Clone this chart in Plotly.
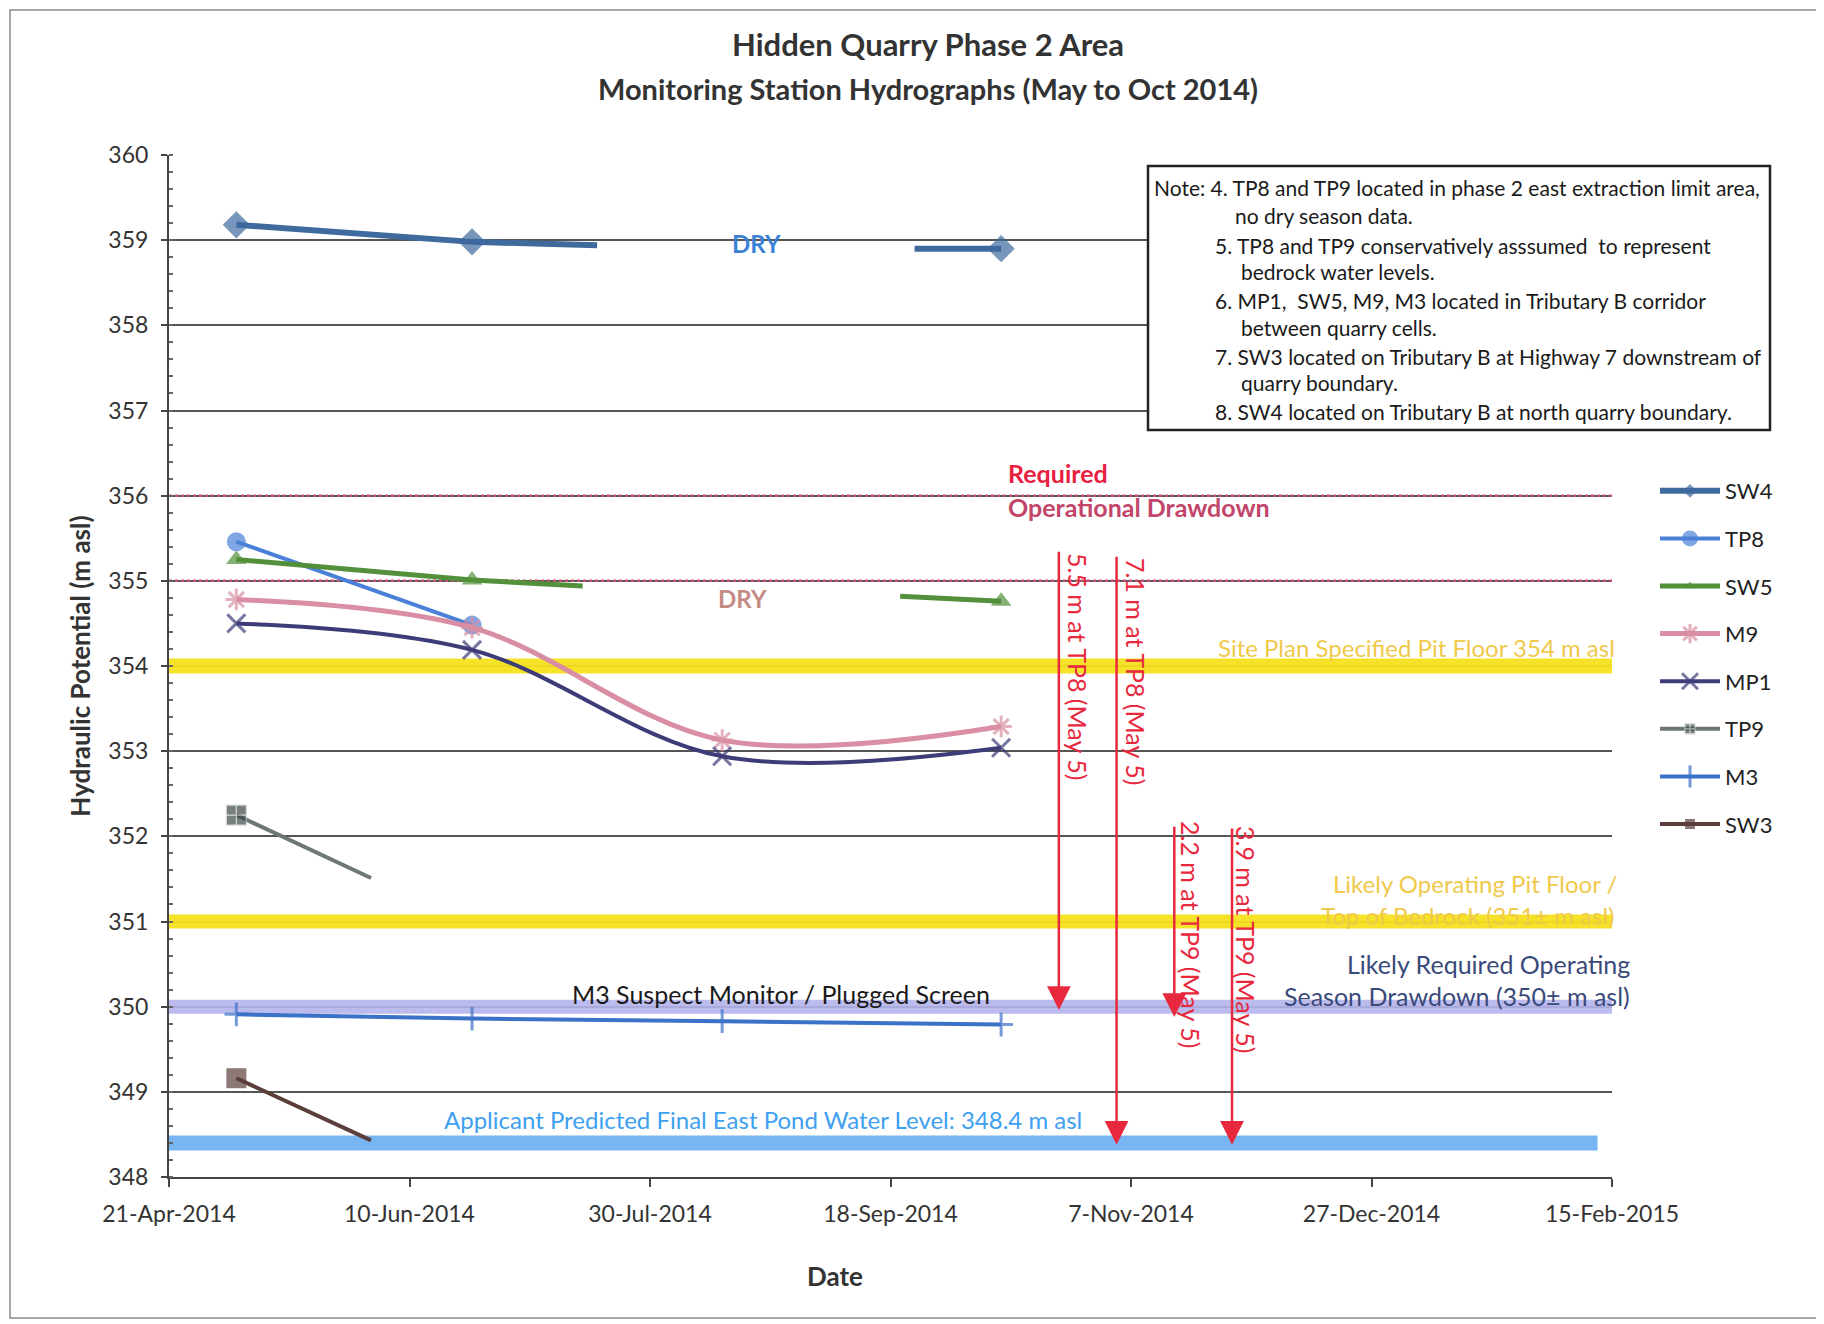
import plotly.graph_objects as go

# ── Data ──────────────────────────────────────────────────────────────────────
SURVEY_DATES = ["2014-05-05", "2014-06-23", "2014-08-14", "2014-10-11"]

SW4_X = ["2014-05-05", "2014-06-23", "2014-07-19", None, "2014-09-23", "2014-10-11"]
SW4_Y = [359.18, 358.98, 358.94, None, 358.90, 358.90]

TP8_X = ["2014-05-05", "2014-06-23"]
TP8_Y = [355.46, 354.48]

SW5_X = ["2014-05-05", "2014-06-23", "2014-07-16", None, "2014-09-20", "2014-10-11"]
SW5_Y = [355.25, 355.01, 354.94, None, 354.82, 354.76]

M9_X = SURVEY_DATES
M9_Y = [354.78, 354.45, 353.13, 353.29]

MP1_X = SURVEY_DATES
MP1_Y = [354.50, 354.19, 352.94, 353.04]

TP9_X = ["2014-05-05", "2014-06-02"]
TP9_Y = [352.25, 351.51]

M3_X = SURVEY_DATES
M3_Y = [349.91, 349.86, 349.83, 349.79]

SW3_X = ["2014-05-05", "2014-06-02"]
SW3_Y = [349.16, 348.43]

# reference levels (m asl)
PIT_FLOOR_PLAN = 354
PIT_FLOOR_LIKELY = 351
SEASON_DRAWDOWN = 350
POND_LEVEL = 348.4
REQUIRED_BAND = [355, 356]

# drawdown arrows
ARROW_DATES = ["2014-10-23", "2014-11-04", "2014-11-16", "2014-11-28"]
ARROW_FROM = [355.36, 355.30, 352.13, 352.11]
ARROW_TO = [349.96, 348.38, 349.88, 348.38]
ARROW_LABELS = ["5.5 m at TP8 (May 5)", "7.1 m at TP8 (May 5)",
                "2.2 m at TP9 (May 5)", "3.9 m at TP9 (May 5)"]

X_START, X_END = "2014-04-21", "2015-02-15"

NOTES = [
    "Note: 4. TP8 and TP9 located in phase 2 east extraction limit area,",
    "no dry season data.",
    "5. TP8 and TP9 conservatively asssumed  to represent",
    "bedrock water levels.",
    "6. MP1,  SW5, M9, M3 located in Tributary B corridor",
    "between quarry cells.",
    "7. SW3 located on Tributary B at Highway 7 downstream of",
    "quarry boundary.",
    "8. SW4 located on Tributary B at north quarry boundary.",
]

# ── Style ─────────────────────────────────────────────────────────────────────
FONT = "Lato, 'Open Sans', sans-serif"
TEXT = "#333333"

# plot area in page pixels (page = figure shifted 8px by the body margin)
L, R, T, B = 169, 1612, 155, 1177


def px(x):
    return (x - L) / (R - L)


def py(y):
    return (B - y) / (B - T)


SERIES = [
    # name, x, y, color, symbol, marker size, line width, shape
    ("SW4", SW4_X, SW4_Y, "#3f6a9e", "diamond", 21, 6, "linear"),
    ("TP8", TP8_X, TP8_Y, "#4a80d8", "circle", 19, 4, "linear"),
    ("SW5", SW5_X, SW5_Y, "#52903b", "triangle-up", 18, 5, "linear"),
    ("M9", M9_X, M9_Y, "#d98ea3", "asterisk-open", 18, 5, "spline"),
    ("MP1", MP1_X, MP1_Y, "#3d3c78", "x-thin-open", 18, 4, "spline"),
    ("TP9", TP9_X, TP9_Y, "#6d7777", "square-cross", 20, 4, "linear"),
    ("M3", M3_X, M3_Y, "#3a72c8", "cross-thin-open", 17, 4, "linear"),
    ("SW3", SW3_X, SW3_Y, "#5b3e3a", "square", 20, 4, "linear"),
]

fig = go.Figure()

for name, xs, ys, color, symbol, msize, lw, shape in SERIES:
    sizes = [msize if d in SURVEY_DATES else 0 for d in xs]
    open_sym = symbol.endswith("open")
    if symbol == "square-cross":
        mcolor, mline = "#3f4949", dict(color="#c8cccc", width=1.2)
    elif open_sym:
        mcolor, mline = color, dict(color=color, width=3)
    else:
        mcolor, mline = color, dict(width=0)
    fig.add_trace(go.Scatter(
        x=xs, y=ys, name=name, mode="lines+markers",
        legendgroup=name,
        line=dict(color=color, width=lw, shape=shape, smoothing=1.0),
        marker=dict(symbol=symbol, size=sizes, color=mcolor, line=mline),
        connectgaps=False,
    ))

# ── Reference lines ───────────────────────────────────────────────────────────
shapes = []
bands = [
    (PIT_FLOOR_PLAN, X_END, "rgba(246,226,30,0.95)", 15),
    (PIT_FLOOR_LIKELY, X_END, "rgba(246,226,30,0.95)", 14),
    (SEASON_DRAWDOWN, X_END, "rgba(180,180,236,0.9)", 14),
    (POND_LEVEL, "2015-02-12", "rgba(105,174,240,0.9)", 15),
]
for lvl, x1, col, w in bands:
    shapes.append(dict(type="line", xref="x", yref="y", x0=X_START, x1=x1,
                       y0=lvl, y1=lvl, line=dict(color=col, width=w), layer="between"))
for lvl in REQUIRED_BAND:
    shapes.append(dict(type="line", xref="x", yref="y", x0=X_START, x1=X_END,
                       y0=lvl, y1=lvl, line=dict(color="#c4506f", width=2.5, dash="dot"),
                       layer="between"))

# note box and outer frame
shapes.append(dict(type="rect", xref="paper", yref="paper",
                   x0=px(1148), x1=px(1770), y0=py(430), y1=py(166),
                   line=dict(color="#222222", width=2.5), fillcolor="white", layer="above"))
shapes.append(dict(type="rect", xref="paper", yref="paper",
                   x0=px(10), x1=px(1819), y0=py(1318), y1=py(10),
                   line=dict(color="#8a8a8a", width=1.5)))

# ── Annotations ───────────────────────────────────────────────────────────────
ann = []

# drawdown arrows
for d, y0, y1 in zip(ARROW_DATES, ARROW_FROM, ARROW_TO):
    ann.append(dict(x=d, y=y1, ax=d, ay=y0, xref="x", yref="y", axref="x", ayref="y",
                    text="", showarrow=True, arrowhead=2, arrowsize=1.9,
                    arrowwidth=2.5, arrowcolor="#e8293d", standoff=0))

for lab, (cx, cy) in zip(ARROW_LABELS, [(1078, 666), (1136, 671), (1191, 934), (1246, 939)]):
    ann.append(dict(x=px(cx), y=py(cy), xref="paper", yref="paper", text=lab,
                    textangle=90, showarrow=False, xanchor="center", yanchor="middle",
                    font=dict(size=25, color="#e8293d", family=FONT)))

# notes
note_y = [188, 215, 245, 271, 300, 327, 356, 382, 412]
note_x = [1152, 1233, 1213, 1239, 1213, 1239, 1213, 1239, 1213]
for txt, nx, ny in zip(NOTES, note_x, note_y):
    ann.append(dict(x=px(nx), y=py(ny), xref="paper", yref="paper", text=txt,
                    showarrow=False, xanchor="left", yanchor="middle",
                    font=dict(size=21, color="#1a1a1a", family=FONT)))

labels = [
    # text, x px, y px, anchor, size, color, bold
    ("Hidden Quarry Phase 2 Area", 928, 44, "center", 31, "#333333", True),
    ("Monitoring Station Hydrographs (May to Oct 2014)", 928, 88, "center", 29, "#333333", True),
    ("Date", 835, 1276, "center", 26, "#333333", True),
    ("Required", 1006, 473, "left", 25, "#e8203f", True),
    ("Operational Drawdown", 1006, 507, "left", 25, "#c2466a", True),
    ("Site Plan Specified Pit Floor 354 m asl", 1617, 647, "right", 24, "#f0c94a", False),
    ("Likely Operating Pit Floor /", 1620, 884, "right", 24, "#f0c94a", False),
    ("Top of Bedrock (351± m asl)", 1617, 916, "right", 24, "#f0c94a", False),
    ("Likely Required Operating", 1632, 964, "right", 25, "#3a4a7a", False),
    ("Season Drawdown (350± m asl)", 1632, 996, "right", 25, "#3a4a7a", False),
    ("M3 Suspect Monitor / Plugged Screen", 570, 994, "left", 25, "#1a1a1a", False),
    ("Applicant Predicted Final East Pond Water Level: 348.4 m asl", 442, 1119, "left", 24, "#3ea0f0", False),
    ("DRY", 756, 243, "center", 24, "#3b82d6", True),
    ("DRY", 742, 598, "center", 24, "#c48a84", True),
]
for txt, lx, ly, anchor, size, col, bold in labels:
    ann.append(dict(x=px(lx), y=py(ly), xref="paper", yref="paper",
                    text=f"<b>{txt}</b>" if bold else txt, showarrow=False,
                    xanchor=anchor, yanchor="middle",
                    font=dict(size=size, color=col, family=FONT)))

# ── Layout ────────────────────────────────────────────────────────────────────
fig.update_layout(
    width=1824, height=1324,
    paper_bgcolor="white", plot_bgcolor="white",
    font=dict(family=FONT, color=TEXT, size=22),
    margin=dict(l=L - 8, r=1824 - R + 8, t=T - 8, b=1324 - B + 8),
    shapes=shapes,
    annotations=ann,
    showlegend=True,
    legend=dict(
        x=px(1655), y=py(470), xanchor="left", yanchor="top",
        font=dict(size=22, color="#222222"),
        itemwidth=60, tracegroupgap=16, bgcolor="rgba(0,0,0,0)",
    ),
    xaxis=dict(
        type="date", range=[X_START, X_END],
        tick0=X_START, dtick=50 * 86400000, tickformat="%-d-%b-%Y",
        ticks="outside", ticklen=8, tickcolor="#444", tickwidth=1.5,
        showline=True, linecolor="#444", linewidth=2,
        showgrid=False, zeroline=False, ticklabelstandoff=7,
        tickfont=dict(size=23, color=TEXT),
    ),
    yaxis=dict(
        range=[348, 360], dtick=1,
        ticks="outside", ticklen=6, tickcolor="#444", tickwidth=1.5,
        minor=dict(dtick=0.2, ticks="inside", ticklen=4, tickcolor="#666", showgrid=False),
        showline=True, linecolor="#444", linewidth=2,
        showgrid=True, gridcolor="#555555", gridwidth=1.5,
        zeroline=False, ticklabelstandoff=8,
        tickfont=dict(size=23, color=TEXT),
        title=dict(text="<b>Hydraulic Potential (m asl)</b>", font=dict(size=26, color=TEXT), standoff=10),
    ),
)

fig.write_html("out.html")
